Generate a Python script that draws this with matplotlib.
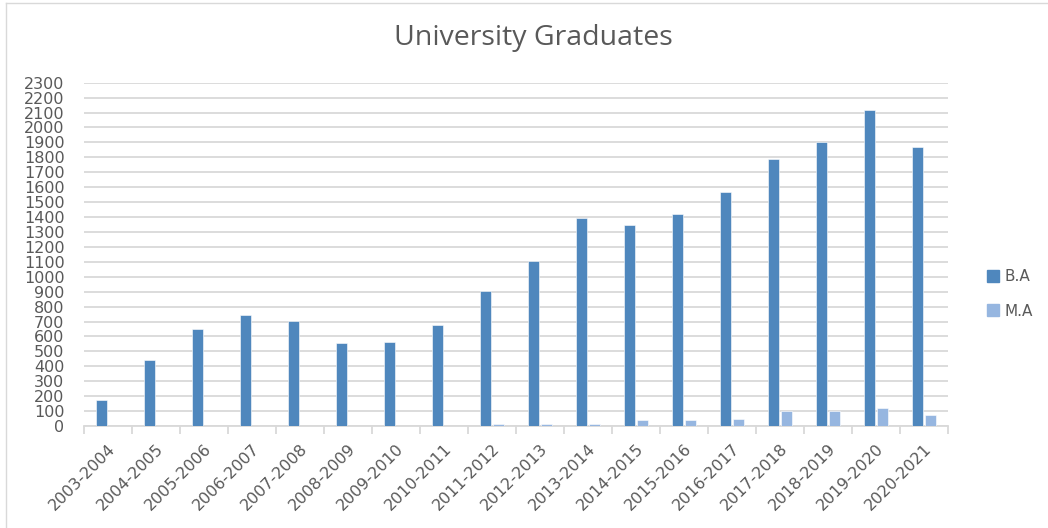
import matplotlib
matplotlib.use("Agg")
import matplotlib.pyplot as plt
from matplotlib.lines import Line2D
import numpy as np

categories = ["2003-2004", "2004-2005", "2005-2006", "2006-2007", "2007-2008",
              "2008-2009", "2009-2010", "2010-2011", "2011-2012", "2012-2013",
              "2013-2014", "2014-2015", "2015-2016", "2016-2017", "2017-2018",
              "2018-2019", "2019-2020", "2020-2021"]
ba_values = [172, 440, 650, 742, 703, 553, 563, 679, 907, 1108,
             1396, 1349, 1420, 1568, 1790, 1906, 2115, 1866]
ma_values = [0, 0, 0, 0, 0, 0, 0, 0, 13, 13,
             13, 40, 40, 49, 102, 102, 121, 71]
yticks = list(range(0, 2301, 100))

BA_COLOR = "#4F87BD"
MA_COLOR = "#96B6E0"
TEXT = "#595959"
GRID = "#D9D9D9"

plt.rcParams["font.family"] = ["DejaVu Sans"]

W, H = 1048, 528
fig = plt.figure(figsize=(W / 100, H / 100), dpi=100)
ax = fig.add_axes([84 / W, 1 - 426 / H, (948 - 84) / W, (426 - 82.7) / H])

x = np.arange(len(categories))
bw = 0.23
ax.bar(x - 0.135, ba_values, width=bw, color=BA_COLOR, edgecolor="white",
       linewidth=0.4, zorder=3, label="B.A")
ax.bar(x + 0.135, ma_values, width=bw, color=MA_COLOR, edgecolor="white",
       linewidth=0.4, zorder=3, label="M.A")

ax.set_xlim(-0.5, len(categories) - 0.5)
ax.set_ylim(0, 2300)
ax.set_yticks(yticks)
ax.set_yticklabels([str(v) for v in yticks], fontsize=11.5, color=TEXT)
ax.yaxis.grid(True, color=GRID, linewidth=1.3, zorder=0)
ax.tick_params(axis="y", length=0, pad=14)

ax.set_xticks(x)
ax.set_xticklabels(categories, rotation=45, ha="right", va="top",
                   rotation_mode="anchor", fontsize=11.5, color=TEXT)
ax.tick_params(axis="x", length=0, pad=11)
# category boundary tick marks
ax.set_xticks(np.arange(-0.5, len(categories), 1.0), minor=True)
ax.tick_params(axis="x", which="minor", length=6, color=GRID, width=1.3)

for s in ["top", "right", "left"]:
    ax.spines[s].set_visible(False)
ax.spines["bottom"].set_color(GRID)
ax.spines["bottom"].set_linewidth(1.3)
ax.set_axisbelow(True)

fig.text(533 / W, 1 - 38 / H, "University Graduates", ha="center", va="center",
         fontsize=20.5, color=TEXT, family=["Open Sans", "DejaVu Sans"])

handles = [Line2D([], [], marker="s", linestyle="none", markersize=8,
                  markerfacecolor=BA_COLOR, markeredgecolor=BA_COLOR),
           Line2D([], [], marker="s", linestyle="none", markersize=8,
                  markerfacecolor=MA_COLOR, markeredgecolor=MA_COLOR)]
leg = fig.legend(handles, ["B.A", "M.A"], loc="center left",
                 bbox_to_anchor=(972 / W, 1 - 294 / H), frameon=False,
                 fontsize=11, labelspacing=1.25, handletextpad=0.2,
                 handlelength=1.0, labelcolor=TEXT)

# light chart frame
fig.add_artist(Line2D([6 / W, 6 / W], [0.0, 1 - 3 / H], color="#D9D9D9",
                      linewidth=1.0, transform=fig.transFigure))
fig.add_artist(Line2D([6 / W, 1.0], [1 - 3 / H, 1 - 3 / H], color="#D9D9D9",
                      linewidth=1.0, transform=fig.transFigure))

fig.savefig("out.png", dpi=100, facecolor="white")
